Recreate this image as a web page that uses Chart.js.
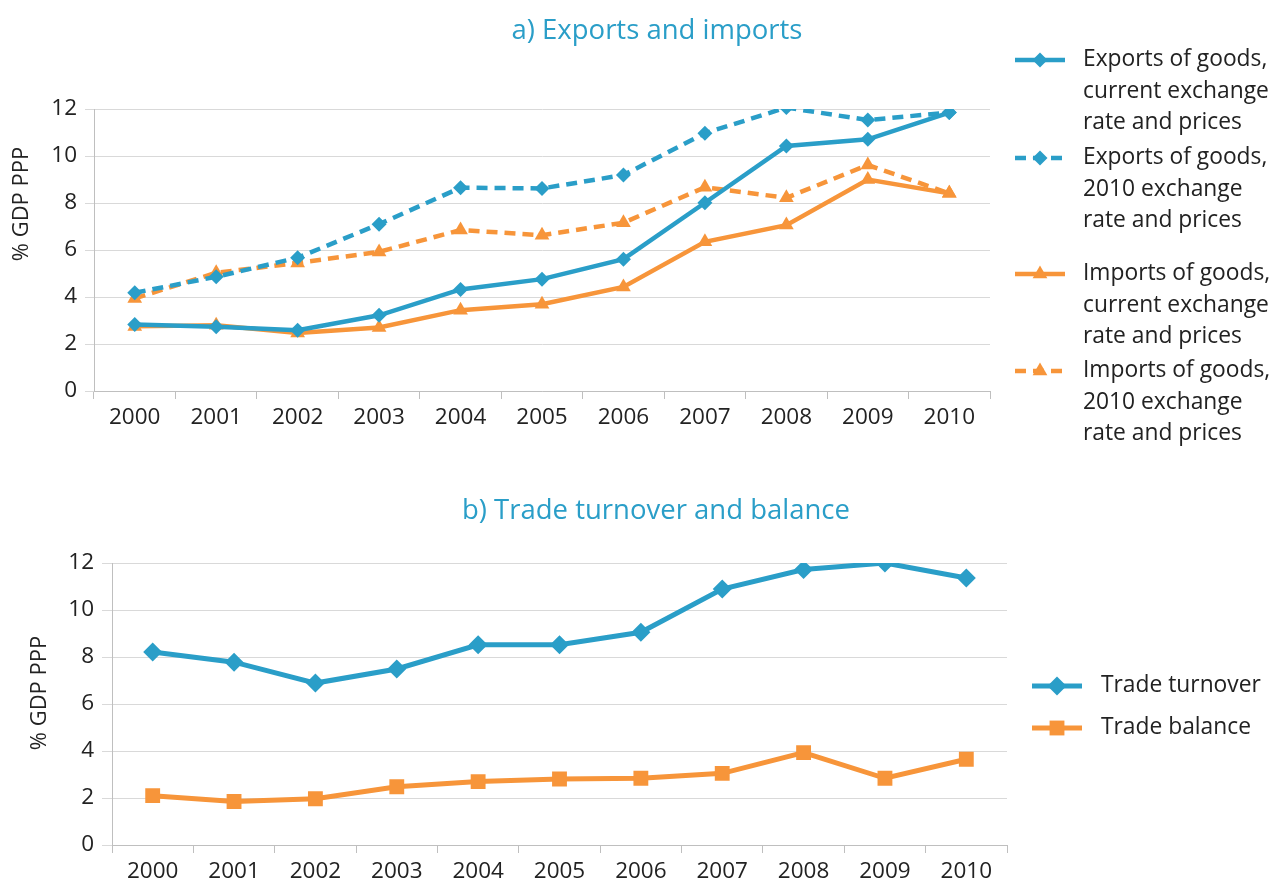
<!DOCTYPE html>
<html>
<head>
<meta charset="utf-8">
<script src="https://cdn.jsdelivr.net/npm/chart.js@4.4.1/dist/chart.umd.min.js"></script>
<style>
    body { margin: 0; background: #fff; width: 1274px; height: 882px; overflow: hidden; }
    .chart-box { position: absolute; left: 0; width: 1274px; }
    #box-top { top: 0; height: 460px; }
    #box-bottom { top: 460px; height: 422px; }
</style>
</head>
<body>
<div class="chart-box" id="box-top"><canvas id="chart-top"></canvas></div>
<div class="chart-box" id="box-bottom"><canvas id="chart-bottom"></canvas></div>
<script>
const years = ['2000', '2001', '2002', '2003', '2004', '2005', '2006', '2007', '2008', '2009', '2010'];
const yTicks = [0, 2, 4, 6, 8, 10, 12];

// a) Exports and imports (% GDP PPP)
const exportsCurrent = [2.83, 2.73, 2.59, 3.22, 4.32, 4.76, 5.61, 8.01, 10.43, 10.71, 11.85];
const exports2010 = [4.18, 4.86, 5.67, 7.10, 8.65, 8.62, 9.19, 10.97, 12.06, 11.53, 11.85];
const importsCurrent = [2.75, 2.80, 2.47, 2.70, 3.44, 3.69, 4.43, 6.35, 7.06, 9.00, 8.41];
const imports2010 = [3.94, 5.03, 5.45, 5.92, 6.85, 6.63, 7.16, 8.67, 8.22, 9.62, 8.41];

// b) Trade turnover and balance (% GDP PPP)
const tradeTurnover = [8.21, 7.78, 6.89, 7.49, 8.52, 8.52, 9.05, 10.89, 11.72, 12.00, 11.36];
const tradeBalance = [2.10, 1.85, 1.97, 2.48, 2.70, 2.81, 2.84, 3.05, 3.93, 2.84, 3.65];

const topLabels = [
    ['Exports of goods,', 'current exchange', 'rate and prices'],
    ['Exports of goods,', '2010 exchange', 'rate and prices'],
    ['Imports of goods,', 'current exchange', 'rate and prices'],
    ['Imports of goods,', '2010 exchange', 'rate and prices']
];
const bottomLabels = [['Trade turnover'], ['Trade balance']];

const BLUE = '#2a9ec8';
const ORANGE = '#f7953a';
const TEXT = '#222222';
const FONT = '"Open Sans", Lato, sans-serif';

Chart.defaults.font.family = FONT;
Chart.defaults.color = TEXT;

// titles, y-axis title and legend drawn on the canvas
const decorPlugin = {
    id: 'decor',
    afterDraw(chart, args, opts) {
        const ctx = chart.ctx;
        ctx.save();
        ctx.textBaseline = 'middle';

        ctx.fillStyle = BLUE;
        ctx.font = '27.5px ' + FONT;
        ctx.textAlign = 'center';
        ctx.fillText(opts.title, opts.titleX, opts.titleY);

        ctx.save();
        ctx.fillStyle = TEXT;
        ctx.font = '22px ' + FONT;
        ctx.translate(opts.yTitleX, opts.yTitleY);
        ctx.rotate(-Math.PI / 2);
        ctx.fillText(opts.yTitle, 0, 0);
        ctx.restore();

        chart.data.datasets.forEach((ds, i) => {
            const y = opts.legendY[i];
            const x0 = opts.legendX;
            ctx.strokeStyle = ds.borderColor;
            ctx.lineWidth = ds.borderWidth;
            ctx.setLineDash(ds.borderDash || []);
            ctx.beginPath();
            ctx.moveTo(x0, y);
            ctx.lineTo(x0 + 50, y);
            ctx.stroke();
            ctx.setLineDash([]);
            ctx.fillStyle = ds.borderColor;
            Chart.helpers.drawPoint(ctx, {
                pointStyle: ds.pointStyle,
                radius: ds.pointRadius,
                borderWidth: 0,
                rotation: 0
            }, x0 + 25, y);

            ctx.fillStyle = TEXT;
            ctx.font = '22.8px ' + FONT;
            ctx.textAlign = 'left';
            ds.label.forEach((line, j) => {
                ctx.fillText(line, opts.textX, y + j * opts.lineHeight);
            });
        });
        ctx.restore();
    }
};

function makeDataset(label, data, color, dashed, style, radius, width) {
    return {
        label: label,
        data: data,
        borderColor: color,
        backgroundColor: color,
        borderWidth: width,
        borderDash: dashed ? [11, 7] : [],
        pointStyle: style,
        pointRadius: radius,
        pointHoverRadius: radius,
        pointBorderWidth: 0,
        pointBackgroundColor: color,
        tension: 0,
        fill: false
    };
}

function makeScales(yWidth, xHeight, tickLen) {
    return {
        x: {
            offset: true,
            grid: {
                offset: true,
                drawOnChartArea: false,
                drawTicks: true,
                tickLength: 8,
                color: '#bfbfbf'
            },
            border: { color: '#bfbfbf', width: 1 },
            ticks: { font: { size: 22.5 }, color: TEXT, padding: 5, maxRotation: 0, autoSkip: false },
            afterFit(scale) { scale.height = xHeight; }
        },
        y: {
            min: yTicks[0],
            max: yTicks[yTicks.length - 1],
            ticks: { stepSize: yTicks[1] - yTicks[0], font: { size: 22.5 }, color: TEXT, padding: 8 },
            grid: { color: '#d9d9d9', lineWidth: 1, tickLength: tickLen, drawTicks: true },
            border: { color: '#bfbfbf', width: 1 },
            afterFit(scale) { scale.width = yWidth; }
        }
    };
}

document.addEventListener('DOMContentLoaded', function () {
    const ctxTop = document.getElementById('chart-top').getContext('2d');
    const ctxBottom = document.getElementById('chart-bottom').getContext('2d');

    new Chart(ctxTop, {
        type: 'line',
        data: {
            labels: years,
            datasets: [
                makeDataset(topLabels[0], exportsCurrent, BLUE, false, 'rectRot', 7.5, 4.5),
                makeDataset(topLabels[1], exports2010, BLUE, true, 'rectRot', 7.5, 4.5),
                makeDataset(topLabels[2], importsCurrent, ORANGE, false, 'triangle', 8.5, 4.5),
                makeDataset(topLabels[3], imports2010, ORANGE, true, 'triangle', 8.5, 4.5)
            ]
        },
        options: {
            responsive: true,
            maintainAspectRatio: false,
            animation: false,
            layout: { padding: { top: 109, right: 284, bottom: 0, left: 0 } },
            scales: makeScales(94, 69, 9),
            plugins: {
                legend: { display: false },
                tooltip: { enabled: false },
                decor: {
                    title: 'a) Exports and imports',
                    titleX: 657, titleY: 31,
                    yTitle: '% GDP PPP',
                    yTitleX: 22, yTitleY: 204,
                    legendX: 1015, textX: 1083,
                    legendY: [60, 158, 274, 371],
                    lineHeight: 31.5
                }
            }
        },
        plugins: [decorPlugin]
    });

    new Chart(ctxBottom, {
        type: 'line',
        data: {
            labels: years,
            datasets: [
                makeDataset(bottomLabels[0], tradeTurnover, BLUE, false, 'rectRot', 9.5, 5),
                makeDataset(bottomLabels[1], tradeBalance, ORANGE, false, 'rect', 10.5, 5)
            ]
        },
        options: {
            responsive: true,
            maintainAspectRatio: false,
            animation: false,
            layout: { padding: { top: 103, right: 267, bottom: 0, left: 0 } },
            scales: makeScales(112, 37, 10),
            plugins: {
                legend: { display: false },
                tooltip: { enabled: false },
                decor: {
                    title: 'b) Trade turnover and balance',
                    titleX: 656, titleY: 51,
                    yTitle: '% GDP PPP',
                    yTitleX: 40, yTitleY: 233,
                    legendX: 1032, textX: 1101,
                    legendY: [226, 268],
                    lineHeight: 31.5
                }
            }
        },
        plugins: [decorPlugin]
    });
});
</script>
</body>
</html>
